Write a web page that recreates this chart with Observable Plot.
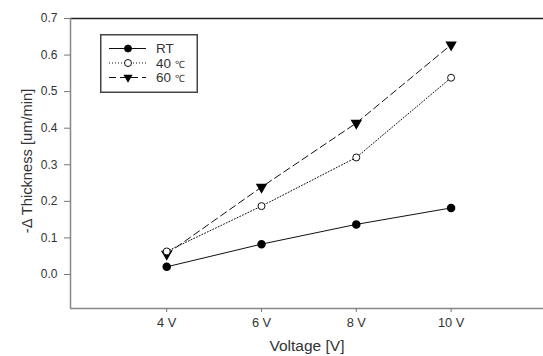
<!DOCTYPE html>
<html>
<head>
<meta charset="utf-8">
<script src="https://cdn.jsdelivr.net/npm/d3@7"></script>
<script src="https://cdn.jsdelivr.net/npm/@observablehq/plot@0.6"></script>
<style>
  body { margin: 0; background: #fff; }
  #wrap { position: relative; width: 543px; height: 356px; font-family: "Liberation Sans", Arial, sans-serif; }
  #legend { position: absolute; left: 100px; top: 34px; }
  #wrap svg.chart text { font-size: 12px !important; font-family: "Liberation Sans", Arial, sans-serif; fill: #333; }
  #wrap svg.chart text.xt { font-size: 12.8px !important; }
  #wrap svg.chart text.xlab { font-size: 15.5px !important; }
  #wrap svg.chart text.ylab { font-size: 14.7px !important; }
</style>
</head>
<body>
<div id="wrap"></div>
<script>
const voltages = [4, 6, 8, 10];
const rtValues = [0.021, 0.083, 0.137, 0.182];
const c40Values = [0.063, 0.187, 0.320, 0.538];
const c60Values = [0.056, 0.239, 0.414, 0.628];
const yTicks = [0, 0.1, 0.2, 0.3, 0.4, 0.5, 0.6, 0.7];
const xTickLabels = ["4 V", "6 V", "8 V", "10 V"];
const seriesNames = ["RT", "40 ℃", "60 ℃"];
const xTitle = "Voltage [V]";
const yTitle = "-Δ Thickness [um/min]";

const rows = (vals, s) => voltages.map((v, i) => ({v, y: vals[i], s}));
const rt = rows(rtValues, seriesNames[0]);
const c40 = rows(c40Values, seriesNames[1]);
const c60 = rows(c60Values, seriesNames[2]);

const xDom = [1.97, 11.95], yDom = [-0.093, 0.7];

const plot = Plot.plot({
  width: 543, height: 356,
  marginLeft: 70, marginRight: 0, marginTop: 18, marginBottom: 48,
  className: "chart",
  style: {fontFamily: "Liberation Sans, Arial, sans-serif", color: "#333", background: "white"},
  x: {domain: xDom},
  y: {domain: yDom},
  marks: [
    Plot.ruleY([yDom[1]], {stroke: "#222", strokeWidth: 1.3}),
    Plot.ruleY([yDom[0]], {stroke: "#888", strokeWidth: 1.5}),
    Plot.ruleX([xDom[0]], {stroke: "#888", strokeWidth: 1.5}),
    Plot.axisY({ticks: yTicks, tickFormat: d3.format(".1f"), tickSize: 6, tickPadding: 7, stroke: "#777",
      label: yTitle, labelAnchor: "center", labelArrow: "none", labelOffset: 49}),
    Plot.axisX({ticks: voltages, tickFormat: (d, i) => xTickLabels[i], tickSize: 4, tickPadding: 5, stroke: "#777",
      label: xTitle, labelAnchor: "center", labelArrow: "none", labelOffset: 42}),
    Plot.line(rt, {x: "v", y: "y", stroke: "#111", strokeWidth: 1}),
    Plot.line(c40, {x: "v", y: "y", stroke: "#111", strokeWidth: 1, strokeDasharray: "1,2"}),
    Plot.line(c60, {x: "v", y: "y", stroke: "#111", strokeWidth: 1, strokeDasharray: "7,4"}),
    Plot.dot(rt, {x: "v", y: "y", r: 3.5, fill: "#000", stroke: "#000"}),
    Plot.dot(c60, {x: "v", y: "y", symbol: "triangle", rotate: 180, r: 3.3, fill: "#000", stroke: "#000"}),
    Plot.dot(c40, {x: "v", y: "y", r: 3.5, fill: "white", stroke: "#111", strokeWidth: 1})
  ]
});
d3.select(plot).selectAll("text").each(function() {
  const t = this.textContent;
  const s = d3.select(this);
  if (t === xTitle) s.classed("xlab", true);
  else if (t === yTitle) {
    s.classed("ylab", true);
    s.attr("transform", "translate(0,-2.5) " + (s.attr("transform") || ""));
  } else if (xTickLabels.includes(t)) s.classed("xt", true);
});
document.getElementById("wrap").appendChild(plot);

// legend
const lg = d3.select("#wrap").append("svg").attr("id", "legend").attr("width", 98).attr("height", 60)
  .style("font-family", "Liberation Sans, Arial, sans-serif");
lg.append("rect").attr("x", 0.75).attr("y", 0.75).attr("width", 96.5).attr("height", 57.5)
  .attr("fill", "white").attr("stroke", "#444").attr("stroke-width", 1.5);
const styles = [
  {dash: null, sym: "circle", fill: "#000"},
  {dash: "1,2", sym: "circle", fill: "white"},
  {dash: "7,4", sym: "tri", fill: "#000"}
];
seriesNames.forEach((name, i) => {
  const y = 14.5 + i * 14.5;
  const st = styles[i];
  const ln = lg.append("line").attr("x1", 9).attr("x2", 46).attr("y1", y).attr("y2", y)
    .attr("stroke", "#111").attr("stroke-width", 1);
  if (st.dash) ln.attr("stroke-dasharray", st.dash);
  if (st.sym === "circle") {
    lg.append("circle").attr("cx", 28).attr("cy", y).attr("r", 3.5).attr("fill", st.fill).attr("stroke", "#111");
  } else {
    lg.append("path").attr("d", d3.symbol(d3.symbolTriangle, 36)()).attr("transform", `translate(28,${y}) rotate(180)`).attr("fill", "#000");
  }
  const parts = name.split(" ");
  const t = lg.append("text").attr("x", 56).attr("y", y + 4.5).attr("fill", "#333").style("font-size", "13.5px");
  t.append("tspan").text(parts[0]);
  if (parts[1]) t.append("tspan").attr("dx", 4).style("font-size", "10px").text(parts[1]);
});
</script>
</body>
</html>
